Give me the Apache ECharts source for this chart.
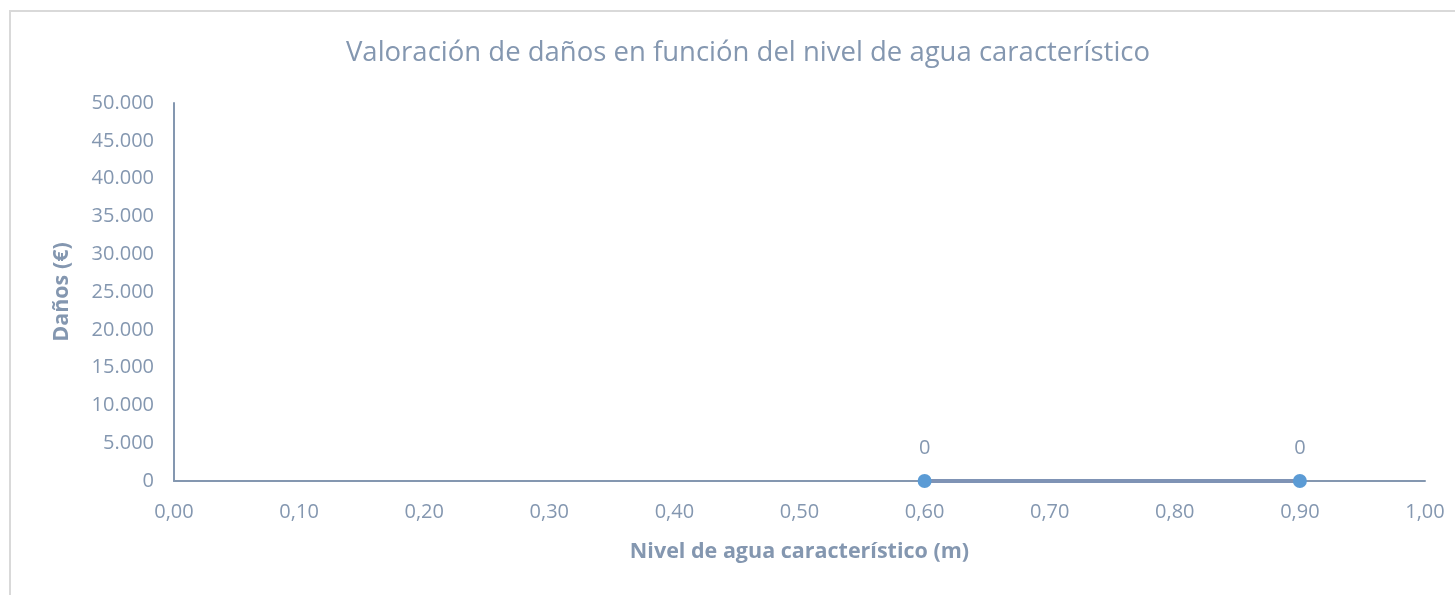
<!DOCTYPE html>
<html>
<head>
<meta charset="utf-8">
<script src="https://cdn.jsdelivr.net/npm/echarts@6/dist/echarts.min.js"></script>
<style>
  html, body { margin: 0; padding: 0; background: #ffffff; }
  #frame { position: absolute; left: 9px; top: 10px; width: 1460px; height: 600px;
           border: 2px solid #d9d9d9; box-sizing: border-box; }
  #chart { position: absolute; left: 0; top: 0; width: 1455px; height: 595px; }
</style>
</head>
<body>
<div id="frame"></div>
<div id="chart"></div>
<script>
// Water level (m) and estimated damage (€)
const waterLevels = [0.6, 0.9];
const damages = [0, 0];
const chartTitle = 'Valoración de daños en función del nivel de agua característico';
const xAxisName = 'Nivel de agua característico (m)';
const yAxisName = 'Daños (€)';

const textColor = '#8497b0';
const axisColor = '#8497b0';
const fontFamily = '"Open Sans", "Noto Sans", sans-serif';

function fmtThousands(v) {
  return String(Math.round(v)).replace(/\B(?=(\d{3})+(?!\d))/g, '.');
}
function fmtDecimal(v) {
  return v.toFixed(2).replace('.', ',');
}

const chart = echarts.init(document.getElementById('chart'), null, { renderer: 'canvas' });
chart.setOption({
  animation: false,
  backgroundColor: 'transparent',
  title: {
    text: chartTitle,
    left: 743, top: 34, textAlign: 'center',
    textStyle: { color: textColor, fontFamily, fontSize: 27.5, fontWeight: 'normal' }
  },
  grid: { left: 174, right: 30, top: 103, bottom: 114 },
  xAxis: {
    type: 'value', min: 0, max: 1, interval: 0.1,
    name: xAxisName, nameLocation: 'middle', nameGap: 60,
    nameTextStyle: { color: textColor, fontFamily, fontSize: 21.5, fontWeight: 'bold' },
    axisLine: { show: true, onZero: true, lineStyle: { color: axisColor, width: 2 } },
    axisTick: { show: false },
    splitLine: { show: false },
    axisLabel: { color: textColor, fontFamily, fontSize: 20, margin: 21,
                 formatter: v => fmtDecimal(v) }
  },
  yAxis: {
    type: 'value', min: 0, max: 50000, interval: 5000,
    name: yAxisName, nameLocation: 'middle', nameGap: 101,
    nameTextStyle: { color: textColor, fontFamily, fontSize: 21.5, fontWeight: 'bold' },
    axisLine: { show: true, lineStyle: { color: axisColor, width: 2 } },
    axisTick: { show: false },
    splitLine: { show: false },
    axisLabel: { color: textColor, fontFamily, fontSize: 20, margin: 20,
                 formatter: v => fmtThousands(v) }
  },
  series: [{
    type: 'line',
    data: waterLevels.map((x, i) => [x, damages[i]]),
    symbol: 'circle', symbolSize: 14,
    lineStyle: { color: '#7f93b5', width: 4 },
    itemStyle: { color: '#5b9bd5' },
    label: { show: true, position: 'top', distance: 16, color: textColor,
             fontFamily, fontSize: 20, formatter: p => fmtThousands(p.value[1]) },
    z: 5
  }]
});
</script>
</body>
</html>
